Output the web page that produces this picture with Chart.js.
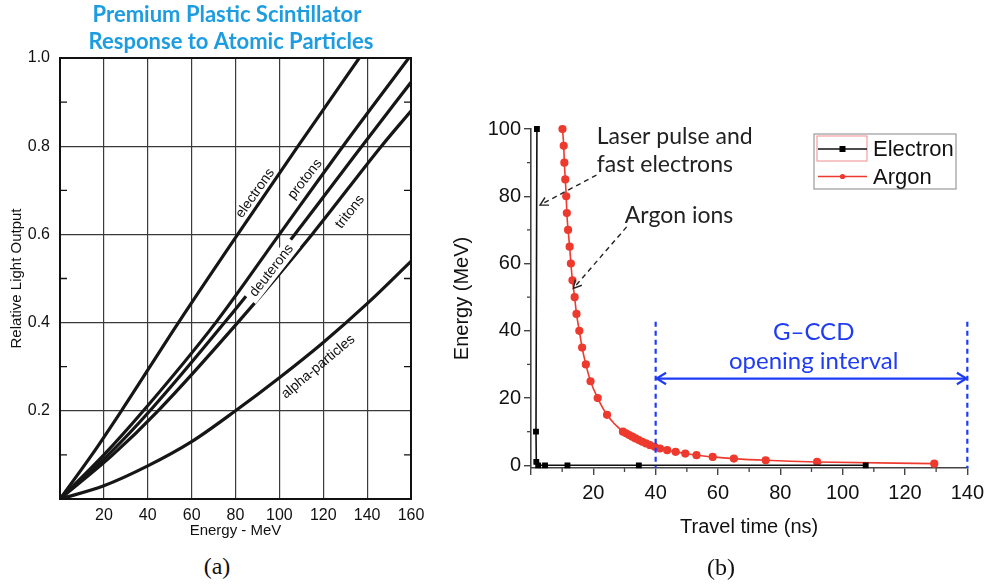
<!DOCTYPE html>
<html lang="en">
<head>
<meta charset="UTF-8">
<title>Scintillator response and ion travel time</title>
<script src="https://cdn.jsdelivr.net/npm/chart.js"></script>
<style>
  body { margin: 0; width: 990px; height: 587px; background: #fff; position: relative; overflow: hidden; }
  .panel { position: absolute; top: 0; }
  #leftBox { left: 0; width: 440px; height: 545px; }
  #rightBox { left: 440px; width: 550px; height: 587px; }
  .caption { position: absolute; font-family: "Liberation Serif", serif; font-size: 24px; color: #111; transform: translate(-50%, -50%); }
</style>
</head>
<body>
<div class="panel" id="leftBox"><canvas id="leftChart"></canvas></div>
<div class="panel" id="rightBox"><canvas id="rightChart"></canvas></div>
<div class="caption" style="left:217px; top:566px;">(a)</div>
<div class="caption" style="left:721px; top:567px;">(b)</div>

<script>
// ---- panel (a): relative light output vs energy ----
const leftXTicks = [20, 40, 60, 80, 100, 120, 140, 160];
const leftYTicks = [0.2, 0.4, 0.6, 0.8, 1.0];
const leftYMinor = [0.1, 0.3, 0.5, 0.7, 0.9];

const electronsE = [0, 14.5, 28, 54, 81, 108.5, 136.4];
const electronsL = [0, 0.1, 0.2, 0.4, 0.6, 0.8, 1.0];
const protonsE = [0, 20, 38, 71, 100, 129, 159];
const protonsL = [0, 0.1, 0.2, 0.4, 0.6, 0.8, 1.0];
const deuteronsE = [0, 22, 41, 75, 107, 137.6, 160];
const deuteronsL = [0, 0.1, 0.2, 0.4, 0.6, 0.8, 0.945];
const tritonsE = [0, 24, 44.7, 81, 114.9, 146.5, 160];
const tritonsL = [0, 0.1, 0.2, 0.4, 0.6, 0.8, 0.88];
const alphaE = [0, 20, 40, 60, 80, 100, 120, 140, 160];
const alphaL = [0, 0.03, 0.075, 0.13, 0.2, 0.275, 0.355, 0.443, 0.539];

// ---- panel (b): energy vs travel time ----
const rightXTicks = [0, 20, 40, 60, 80, 100, 120, 140];
const rightXMinor = [10, 30, 50, 70, 90, 110, 130];
const rightYTicks = [0, 20, 40, 60, 80, 100];
const rightYMinor = [10, 30, 50, 70, 90];

const electronT = [1.9, 1.6, 1.7, 2.3, 4.5, 11.7, 34.6, 107.4];
const electronE = [100, 10, 1, 0, 0, 0, 0, 0];
const argonT = [10.1, 10.5, 10.7, 11.0, 11.3, 11.5, 11.9, 12.4, 12.8, 13.3, 14.0, 14.6, 15.5, 16.4, 17.6, 19.1,
  21.4, 24.4, 29.5, 30.5, 31.5, 32.5, 33.5, 34.6, 35.7, 36.9, 38.2, 39.7, 41.4, 43.7, 46.4, 49.5, 53.1, 58.3,
  65.1, 75.3, 91.8, 129.4];
const argonE = [100, 95, 90, 85, 80, 75, 70, 65, 60, 55, 50, 45, 40, 35, 30, 25, 20, 15, 10, 9.5, 9, 8.5, 8,
  7.5, 7, 6.5, 6, 5.5, 5, 4.5, 4, 3.5, 3, 2.5, 2, 1.5, 1, 0.5];

Chart.defaults.font.family = '"Liberation Sans", Arial, sans-serif';
Chart.defaults.color = '#111';

function pts(xs, ys) {
    return xs.map((x, i) => ({ x: x, y: ys[i] }));
}

function curve(label, xs, ys) {
    return {
        label: label,
        data: pts(xs, ys),
        borderColor: '#161616',
        borderWidth: 3.2,
        pointRadius: 0,
        cubicInterpolationMode: 'monotone',
        fill: false
    };
}

// frame, inner ticks, title and curve labels for panel (a)
const leftDecor = {
    id: 'leftDecor',
    afterDatasetsDraw(chart) {
        const ctx = chart.ctx;
        const a = chart.chartArea;
        const x = chart.scales.x, y = chart.scales.y;
        ctx.save();
        ctx.strokeStyle = '#111';
        ctx.lineWidth = 2;
        ctx.strokeRect(a.left, a.top, a.right - a.left, a.bottom - a.top);
        ctx.lineWidth = 1.3;
        leftYMinor.forEach(v => {
            const py = y.getPixelForValue(v);
            ctx.beginPath();
            ctx.moveTo(a.left, py); ctx.lineTo(a.left + 7, py);
            ctx.moveTo(a.right, py); ctx.lineTo(a.right - 7, py);
            ctx.stroke();
        });

        // title
        ctx.fillStyle = '#1d9de0';
        ctx.font = 'bold 22px Lato, "Open Sans", sans-serif';
        ctx.textAlign = 'center';
        ctx.textBaseline = 'middle';
        ctx.fillText('Premium Plastic Scintillator', 227, 15);
        ctx.fillText('Response to Atomic Particles', 231, 42);

        // labels along the curves
        const labels = [
            ['electrons', 89, 0.693, -55, false],
            ['protons', 111.7, 0.725, -52, false],
            ['deuterons', 96.5, 0.518, -52, true],
            ['tritons', 132.2, 0.651, -52, false],
            ['alpha-particles', 117.7, 0.3, -40, false]
        ];
        ctx.font = '14px "Liberation Sans", Arial, sans-serif';
        labels.forEach(([txt, ex, ly, ang, gap]) => {
            ctx.save();
            ctx.translate(x.getPixelForValue(ex), y.getPixelForValue(ly));
            ctx.rotate(ang * Math.PI / 180);
            if (gap) {
                const w = ctx.measureText(txt).width;
                ctx.fillStyle = '#fff';
                ctx.fillRect(-w / 2 - 5, -8, w + 10, 16);
            }
            ctx.fillStyle = '#111';
            ctx.fillText(txt, 0, 0);
            ctx.restore();
        });
        ctx.restore();
    }
};

new Chart(document.getElementById('leftChart'), {
    type: 'line',
    data: {
        datasets: [
            curve('electrons', electronsE, electronsL),
            curve('protons', protonsE, protonsL),
            curve('deuterons', deuteronsE, deuteronsL),
            curve('tritons', tritonsE, tritonsL),
            curve('alpha-particles', alphaE, alphaL)
        ]
    },
    options: {
        responsive: true,
        maintainAspectRatio: false,
        animation: false,
        layout: { padding: { left: 0, top: 58, right: 29, bottom: 0 } },
        plugins: { legend: { display: false }, tooltip: { enabled: false } },
        scales: {
            x: {
                type: 'linear', min: 0, max: 160,
                afterBuildTicks: s => { s.ticks = leftXTicks.map(v => ({ value: v })); },
                afterFit: s => { s.height = 46; },
                grid: { color: '#3a3a3a', lineWidth: 1.2, drawTicks: false },
                border: { display: false },
                ticks: { padding: 7, font: { size: 16 }, maxRotation: 0, autoSkip: false },
                title: { display: true, text: 'Energy - MeV', font: { size: 15 }, padding: { top: 0, bottom: 5 } }
            },
            y: {
                type: 'linear', min: 0, max: 1,
                afterBuildTicks: s => { s.ticks = leftYTicks.map(v => ({ value: v })); },
                afterFit: s => { s.width = 60; },
                grid: { color: '#3a3a3a', lineWidth: 1.2, drawTicks: false },
                border: { display: false },
                ticks: { padding: 10, font: { size: 16 }, autoSkip: false, callback: v => v.toFixed(1) },
                title: { display: true, text: 'Relative Light Output', font: { size: 15 }, padding: { top: 8, bottom: 0 } }
            }
        }
    },
    plugins: [leftDecor]
});

// ---- panel (b) helpers ----
function arrowHead(ctx, x1, y1, x2, y2, size, spread) {
    const a = Math.atan2(y2 - y1, x2 - x1);
    ctx.beginPath();
    ctx.moveTo(x2 - size * Math.cos(a - spread), y2 - size * Math.sin(a - spread));
    ctx.lineTo(x2, y2);
    ctx.lineTo(x2 - size * Math.cos(a + spread), y2 - size * Math.sin(a + spread));
    ctx.stroke();
}

const rightDecor = {
    id: 'rightDecor',
    afterDatasetsDraw(chart) {
        const ctx = chart.ctx;
        const a = chart.chartArea;
        const x = chart.scales.x, y = chart.scales.y;
        const X = v => x.getPixelForValue(v), Y = v => y.getPixelForValue(v);
        ctx.save();

        // minor ticks
        ctx.strokeStyle = '#444';
        ctx.lineWidth = 1.3;
        rightXMinor.forEach(v => {
            ctx.beginPath(); ctx.moveTo(X(v), a.bottom); ctx.lineTo(X(v), a.bottom + 4); ctx.stroke();
        });
        rightYMinor.forEach(v => {
            ctx.beginPath(); ctx.moveTo(a.left, Y(v)); ctx.lineTo(a.left - 4, Y(v)); ctx.stroke();
        });

        // G-CCD opening interval
        ctx.strokeStyle = '#1f3cf5';
        ctx.lineWidth = 2.2;
        ctx.setLineDash([5, 4]);
        [40, 140].forEach(v => {
            ctx.beginPath(); ctx.moveTo(X(v), Y(42.7)); ctx.lineTo(X(v), a.bottom); ctx.stroke();
        });
        ctx.setLineDash([]);
        ctx.lineWidth = 2.2;
        ctx.beginPath(); ctx.moveTo(X(40) + 1, Y(25.8)); ctx.lineTo(X(140) - 1, Y(25.8)); ctx.stroke();
        arrowHead(ctx, X(90), Y(25.8), X(40) + 1, Y(25.8), 11, 0.55);
        arrowHead(ctx, X(90), Y(25.8), X(140) - 1, Y(25.8), 11, 0.55);
        ctx.fillStyle = '#1f3cf5';
        ctx.font = '24px Lato, "Open Sans", sans-serif';
        ctx.textAlign = 'center';
        ctx.textBaseline = 'middle';
        ctx.fillText('G\u2013CCD', X(90.7), Y(39.6));
        ctx.fillText('opening interval', X(90.7), Y(31));

        // annotations with dashed arrows
        ctx.fillStyle = '#222';
        ctx.textAlign = 'left';
        ctx.font = '23px Lato, "Open Sans", sans-serif';
        ctx.fillText('Laser pulse and', X(21.1), Y(97.7));
        ctx.fillText('fast electrons', X(21.1), Y(89.3));
        ctx.fillText('Argon ions', X(30.1), Y(74.4));
        ctx.strokeStyle = '#222';
        ctx.lineWidth = 1.4;
        ctx.setLineDash([5, 4]);
        ctx.beginPath(); ctx.moveTo(X(21.0), Y(86.3)); ctx.lineTo(X(2.9), Y(77.4)); ctx.stroke();
        ctx.beginPath(); ctx.moveTo(X(30.7), Y(70.9)); ctx.lineTo(X(13.6), Y(52.6)); ctx.stroke();
        ctx.setLineDash([]);
        arrowHead(ctx, X(21.0), Y(86.3), X(2.9), Y(77.4), 9, 0.5);
        arrowHead(ctx, X(30.7), Y(70.9), X(13.6), Y(52.6), 9, 0.5);

        // legend box
        const lx = 374, ly = 134, lw = 142, lh = 55;
        ctx.strokeStyle = '#9a9a9a';
        ctx.lineWidth = 1.2;
        ctx.strokeRect(lx, ly, lw, lh);
        ctx.strokeStyle = '#f08c8c';
        ctx.lineWidth = 1;
        ctx.strokeRect(lx + 3, ly + 2, 50, 25);
        ctx.font = '22px "Liberation Sans", Arial, sans-serif';
        chart.data.datasets.forEach((ds, i) => {
            const cy = ly + 15 + i * 27.5;
            ctx.strokeStyle = ds.borderColor;
            ctx.lineWidth = 1.6;
            ctx.beginPath(); ctx.moveTo(lx + 4, cy); ctx.lineTo(lx + 53, cy); ctx.stroke();
            ctx.fillStyle = ds.pointBackgroundColor;
            if (ds.pointStyle === 'rect') {
                ctx.fillRect(lx + 28.5 - 3, cy - 3, 6, 6);
            } else {
                ctx.beginPath(); ctx.arc(lx + 28.5, cy, 2.6, 0, Math.PI * 2); ctx.fill();
            }
            ctx.fillStyle = '#111';
            ctx.fillText(ds.label, lx + 59, cy + 1);
        });
        ctx.restore();
    }
};

new Chart(document.getElementById('rightChart'), {
    type: 'line',
    data: {
        datasets: [
            {
                label: 'Electron',
                data: pts(electronT, electronE),
                borderColor: '#111',
                backgroundColor: '#000',
                pointBackgroundColor: '#000',
                pointBorderColor: '#000',
                pointStyle: 'rect',
                pointRadius: 3,
                borderWidth: 1.6,
                clip: false
            },
            {
                label: 'Argon',
                data: pts(argonT, argonE),
                borderColor: '#ee3a2e',
                backgroundColor: '#ee3a2e',
                pointBackgroundColor: '#ee3a2e',
                pointBorderColor: '#ee3a2e',
                pointStyle: 'circle',
                pointRadius: 3.3,
                borderWidth: 1.6,
                cubicInterpolationMode: 'monotone',
                clip: false
            }
        ]
    },
    options: {
        responsive: true,
        maintainAspectRatio: false,
        animation: false,
        layout: { padding: { left: 0, top: 129, right: 22, bottom: 39 } },
        plugins: { legend: { display: false }, tooltip: { enabled: false } },
        scales: {
            x: {
                type: 'linear', min: 0, max: 140,
                afterBuildTicks: s => { s.ticks = rightXTicks.map(v => ({ value: v })); },
                afterFit: s => { s.height = 80; },
                grid: { drawOnChartArea: false, drawTicks: true, tickLength: 7, color: '#444', lineWidth: 1.4 },
                border: { color: '#444', width: 1.6 },
                ticks: { padding: 6, font: { size: 20 }, maxRotation: 0, autoSkip: false, callback: v => v === 0 ? '' : v },
                title: { display: true, text: 'Travel time (ns)', font: { size: 20 }, padding: { top: 0, bottom: 9 } }
            },
            y: {
                type: 'linear', min: -0.8, max: 100,
                afterBuildTicks: s => { s.ticks = rightYTicks.map(v => ({ value: v })); },
                afterFit: s => { s.width = 91; },
                grid: { drawOnChartArea: false, drawTicks: true, tickLength: 7, color: '#444', lineWidth: 1.4 },
                border: { color: '#444', width: 1.6 },
                ticks: { padding: 3, font: { size: 20 }, autoSkip: false },
                title: { display: true, text: 'Energy (MeV)', font: { size: 20 }, padding: { top: 10, bottom: 0 } }
            }
        }
    },
    plugins: [rightDecor]
});
</script>
</body>
</html>
